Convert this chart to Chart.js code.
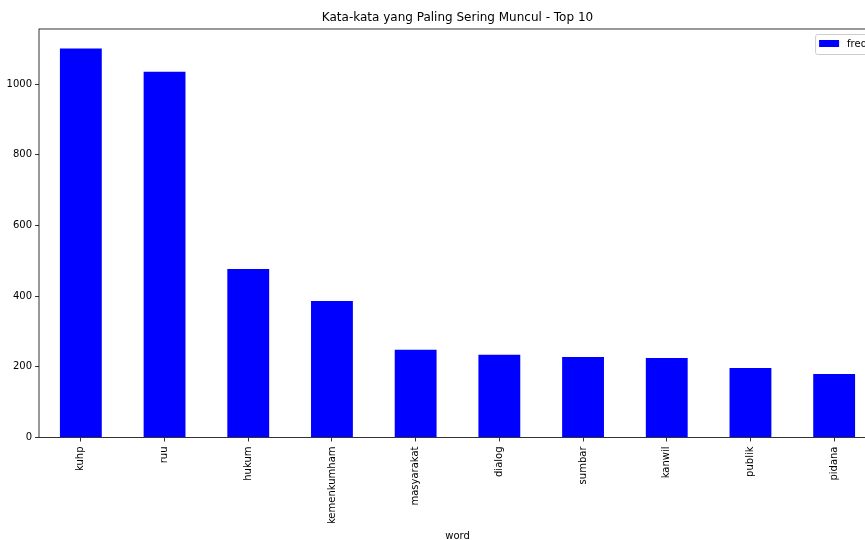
<!DOCTYPE html>
<html>
<head>
<meta charset="utf-8">
<script src="https://cdn.jsdelivr.net/npm/chart.js@4"></script>
<style>
  html, body { margin: 0; padding: 0; background: #fff; overflow: hidden; }
  canvas { display: block; }
</style>
</head>
<body>
<canvas id="wordChart" width="876" height="540"></canvas>
<script>
// data
const words = ['kuhp', 'ruu', 'hukum', 'kemenkumham', 'masyarakat', 'dialog', 'sumbar', 'kanwil', 'publik', 'pidana'];
const freq = [1101, 1035, 477, 386, 248, 234, 228, 225, 197, 180];
const yTicks = [0, 200, 400, 600, 800, 1000];

const FONT = 'DejaVu Sans';

// frame + legend like matplotlib
const mplBits = {
  id: 'mplBits',
  afterDraw(chart) {
    const ctx = chart.ctx;
    const a = chart.chartArea;
    ctx.save();
    ctx.strokeStyle = '#000';
    ctx.lineWidth = 0.8;
    ctx.strokeRect(a.left, a.top, a.right - a.left, a.bottom - a.top);

    // legend box in upper right
    const label = chart.data.datasets[0].label;
    ctx.font = '10px "' + FONT + '"';
    const tw = ctx.measureText(label).width;
    const w = 4 + 20 + 8 + tw + 4;
    const h = 20;
    const x = a.right - 5 - w;
    const y = a.top + 5;
    ctx.fillStyle = 'rgba(255,255,255,0.8)';
    ctx.strokeStyle = '#cccccc';
    ctx.lineWidth = 1;
    ctx.beginPath();
    ctx.roundRect(x + 0.5, y + 0.5, w, h, 2);
    ctx.fill();
    ctx.stroke();
    ctx.fillStyle = '#0000ff';
    ctx.fillRect(x + 4, y + 6, 20, 7);
    ctx.fillStyle = '#000';
    ctx.textBaseline = 'middle';
    ctx.fillText(label, x + 32, y + 10);
    ctx.restore();
  }
};

document.addEventListener('DOMContentLoaded', function () {
  const canvas = document.getElementById('wordChart').getContext('2d');
  const chart = new Chart(canvas, {
    type: 'bar',
    data: {
      labels: words,
      datasets: [{
        label: 'freq',
        data: freq,
        backgroundColor: '#0000ff',
        borderWidth: 0,
        categoryPercentage: 1.0,
        barPercentage: 0.5
      }]
    },
    options: {
      responsive: false,
      maintainAspectRatio: false,
      animation: false,
      layout: { padding: 0 },
      plugins: {
        legend: { display: false },
        tooltip: { enabled: false },
        title: {
          display: true,
          fullSize: false,
          text: 'Kata-kata yang Paling Sering Muncul - Top 10',
          color: '#000',
          font: { family: FONT, size: 12, weight: 'normal', lineHeight: 1.2 },
          padding: { top: 11, bottom: 3.6 }
        }
      },
      scales: {
        x: {
          offset: true,
          grid: { display: true, drawOnChartArea: false, offset: false, color: '#000', lineWidth: 0.8, tickLength: 4 },
          border: { display: false },
          ticks: {
            autoSkip: false,
            minRotation: 90,
            maxRotation: 90,
            padding: 5,
            color: '#000',
            font: { family: FONT, size: 10 }
          },
          title: {
            display: true,
            text: 'word',
            color: '#000',
            padding: { top: 0, bottom: 0 },
            font: { family: FONT, size: 10, lineHeight: 0.8 }
          },
          afterFit(scale) { scale.height = 102.5; }
        },
        y: {
          min: 0,
          max: 1156,
          grid: { display: true, drawOnChartArea: false, color: '#000', lineWidth: 0.8, tickLength: 4 },
          border: { display: false },
          afterBuildTicks(scale) { scale.ticks = yTicks.map(v => ({ value: v })); },
          ticks: {
            padding: 3,
            color: '#000',
            font: { family: FONT, size: 10 },
            callback: (v) => String(v)
          },
          afterFit(scale) { scale.width = 39; }
        }
      }
    },
    plugins: [mplBits]
  });
});
</script>
</body>
</html>
